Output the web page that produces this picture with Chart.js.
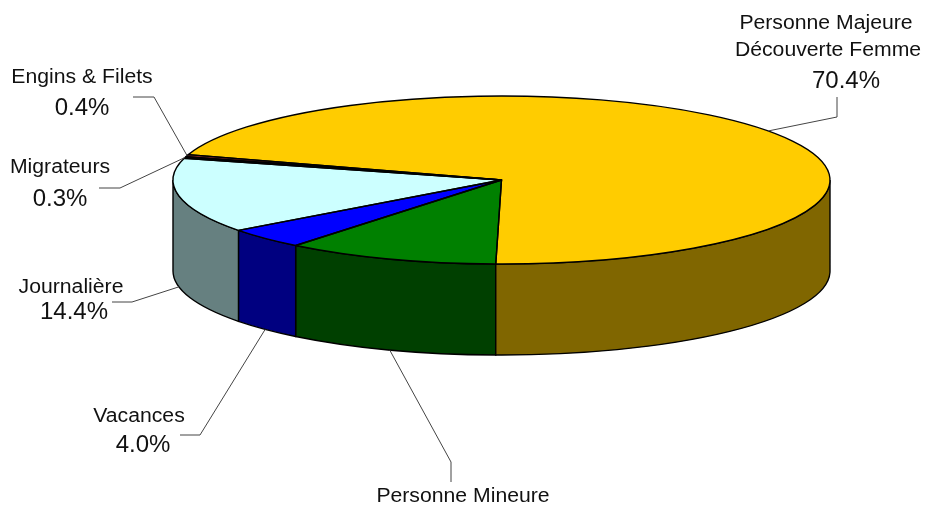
<!DOCTYPE html>
<html>
<head>
<meta charset="utf-8">
<script src="https://cdn.jsdelivr.net/npm/chart.js@4.4.1/dist/chart.umd.min.js"></script>
<style>
  html, body { margin: 0; padding: 0; background: #fff; }
  canvas { display: block; }
</style>
</head>
<body>
<canvas id="camembert" width="925" height="508"></canvas>
<script>
// Données du graphique
const categories = ['Personne Mineure', 'Vacances', 'Journalière', 'Migrateurs', 'Engins & Filets', 'Personne Majeure\nDécouverte Femme'];
const values = [10.5, 4.0, 14.4, 0.3, 0.4, 70.4];

// Couleurs : dessus et côtés (moitié plus sombre)
const topColors = ['#008000', '#0000FF', '#CCFFFF', '#CC6666', '#993333', '#FFCC00'];
const sideColors = ['#004000', '#000080', '#668080', '#663333', '#4D1A1A', '#806600'];

// Ellipse du dessus et épaisseur
const CX = 501.5, CY = 180, RX = 328.5, RY = 84, DEPTH = 91;

// Position des étiquettes (x, ligne de base) et des traits de rappel
const labelPos = [
  { name: [[463, 502]], pct: null, elbow: [451, 462], end: [451, 482] },
  { name: [[139, 422]], pct: [143, 452], elbow: [200, 435], end: [180, 435] },
  { name: [[71, 293]], pct: [74, 319], elbow: [132, 302], end: [112, 302] },
  { name: [[60, 173]], pct: [60, 206], elbow: [120, 188], end: [99, 188] },
  { name: [[82, 83]], pct: [82, 115], elbow: [154, 97], end: [133, 97] },
  { name: [[826, 29], [828, 56]], pct: [846, 88], elbow: [837, 117], end: [837, 97] }
];

// Parties d'un arc qui sont sur le devant (sin > 0)
function frontParts(a1, a2) {
  const out = [];
  for (let k = -1; k <= 2; k++) {
    const s = Math.max(a1, 2 * Math.PI * k);
    const e = Math.min(a2, 2 * Math.PI * k + Math.PI);
    if (e > s) out.push([s, e]);
  }
  return out;
}

function drawText(ctx, txt, x, y, size, stretch) {
  ctx.save();
  ctx.translate(x, y);
  ctx.scale(stretch, 1);
  ctx.font = size + 'px "Liberation Sans", Arial, sans-serif';
  ctx.textAlign = 'center';
  ctx.textBaseline = 'alphabetic';
  ctx.fillStyle = '#111';
  ctx.fillText(txt, 0, 0);
  ctx.restore();
}

const pie3d = {
  id: 'pie3d',
  beforeDatasetsDraw(chart) {
    const ctx = chart.ctx;
    const arcs = chart.getDatasetMeta(0).data;

    // côtés du camembert
    arcs.forEach((arc, i) => {
      frontParts(arc.startAngle, arc.endAngle).forEach(([s, e]) => {
        ctx.beginPath();
        ctx.ellipse(CX, CY, RX, RY, 0, s, e);
        ctx.lineTo(CX + RX * Math.cos(e), CY + DEPTH + RY * Math.sin(e));
        ctx.ellipse(CX, CY + DEPTH, RX, RY, 0, e, s, true);
        ctx.closePath();
        ctx.fillStyle = sideColors[i];
        ctx.fill();
        ctx.lineWidth = 1.4;
        ctx.strokeStyle = '#000';
        ctx.stroke();
      });
    });

    // aplatir le cercle en ellipse pour le dessus
    const a = arcs[0];
    ctx.save();
    ctx.translate(CX, CY);
    ctx.scale(RX / a.outerRadius, RY / a.outerRadius);
    ctx.translate(-a.x, -a.y);
  },
  afterDatasetsDraw(chart) {
    const ctx = chart.ctx;
    ctx.restore();

    // contours du dessus
    chart.getDatasetMeta(0).data.forEach(arc => {
      const a1 = arc.startAngle, a2 = arc.endAngle;
      ctx.beginPath();
      ctx.moveTo(CX, CY);
      ctx.lineTo(CX + RX * Math.cos(a1), CY + RY * Math.sin(a1));
      ctx.ellipse(CX, CY, RX, RY, 0, a1, a2);
      ctx.closePath();
      ctx.lineWidth = 1.4;
      ctx.strokeStyle = '#000';
      ctx.lineJoin = 'round';
      ctx.stroke();
    });
  },
  afterDraw(chart) {
    const ctx = chart.ctx;
    const arcs = chart.getDatasetMeta(0).data;
    arcs.forEach((arc, i) => {
      const pos = labelPos[i];
      const mid = (arc.startAngle + arc.endAngle) / 2;
      const sx = CX + RX * Math.cos(mid);
      const sy = CY + RY * Math.sin(mid) + (Math.sin(mid) > 0 ? DEPTH : 0);

      // trait de rappel
      ctx.beginPath();
      ctx.moveTo(sx, sy);
      ctx.lineTo(pos.elbow[0], pos.elbow[1]);
      ctx.lineTo(pos.end[0], pos.end[1]);
      ctx.lineWidth = 1;
      ctx.strokeStyle = '#444';
      ctx.stroke();

      // texte
      const lines = categories[i].split('\n');
      lines.forEach((txt, j) => drawText(ctx, txt, pos.name[j][0], pos.name[j][1], 20, 1.06));
      if (pos.pct) {
        drawText(ctx, values[i].toFixed(1) + '%', pos.pct[0], pos.pct[1], 24, 1.0);
      }
    });
  }
};

const ctx = document.getElementById('camembert').getContext('2d');
const camembert = new Chart(ctx, {
  type: 'pie',
  data: {
    labels: categories,
    datasets: [{
      data: values,
      backgroundColor: topColors,
      borderWidth: 0
    }]
  },
  options: {
    responsive: false,
    animation: false,
    rotation: 181,
    events: [],
    plugins: {
      legend: { display: false },
      tooltip: { enabled: false }
    }
  },
  plugins: [pie3d]
});
</script>
</body>
</html>
